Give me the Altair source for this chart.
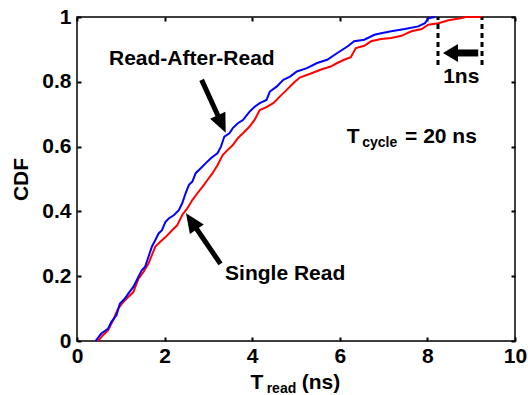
import altair as alt
import pandas as pd
import numpy as np

# ---------------- data ----------------
blue_x = [0.423, 0.554, 0.708, 0.785, 0.901, 0.978, 1.093, 1.170, 1.286, 1.401,
          1.478, 1.555, 1.632, 1.709, 1.786, 1.863, 1.940, 2.017, 2.094, 2.209,
          2.325, 2.402, 2.479, 2.556, 2.633, 2.710, 2.825, 2.941, 3.056, 3.210,
          3.287, 3.364, 3.480, 3.557, 3.672, 3.788, 3.941, 4.057, 4.172, 4.326,
          4.403, 4.557, 4.711, 4.865, 5.019, 5.250, 5.481, 5.712, 5.943, 6.174,
          6.328, 6.559, 6.790, 6.944, 7.175, 7.483, 7.790, 7.945, 8.021, 8.175]
blue_y = [0.000, 0.023, 0.038, 0.059, 0.079, 0.115, 0.131, 0.146, 0.167, 0.198,
          0.218, 0.229, 0.260, 0.291, 0.311, 0.332, 0.342, 0.367, 0.378, 0.388,
          0.404, 0.425, 0.456, 0.482, 0.492, 0.518, 0.533, 0.549, 0.564, 0.580,
          0.600, 0.631, 0.641, 0.657, 0.672, 0.682, 0.708, 0.723, 0.734, 0.744,
          0.770, 0.785, 0.806, 0.816, 0.832, 0.842, 0.858, 0.868, 0.889, 0.909,
          0.925, 0.930, 0.945, 0.950, 0.956, 0.963, 0.971, 0.981, 0.996, 1.000]

red_x = [0.477, 0.593, 0.708, 0.824, 0.939, 1.055, 1.170, 1.286, 1.401, 1.517,
         1.632, 1.724, 1.786, 1.901, 2.017, 2.171, 2.286, 2.402, 2.517, 2.633,
         2.748, 2.864, 2.979, 3.095, 3.210, 3.326, 3.441, 3.557, 3.672, 3.788,
         3.941, 4.057, 4.172, 4.326, 4.480, 4.634, 4.788, 4.942, 5.096, 5.327,
         5.558, 5.789, 5.943, 6.097, 6.251, 6.366, 6.559, 6.713, 6.944, 7.175,
         7.406, 7.637, 7.868, 8.021, 8.252, 8.483, 8.791, 8.868, 9.253]
red_y = [0.000, 0.018, 0.033, 0.064, 0.100, 0.120, 0.136, 0.151, 0.192, 0.213,
         0.239, 0.270, 0.291, 0.306, 0.320, 0.342, 0.357, 0.389, 0.409, 0.435,
         0.456, 0.476, 0.497, 0.518, 0.543, 0.574, 0.590, 0.605, 0.626, 0.641,
         0.662, 0.683, 0.713, 0.722, 0.734, 0.755, 0.775, 0.796, 0.814, 0.825,
         0.837, 0.847, 0.858, 0.868, 0.876, 0.904, 0.911, 0.925, 0.932, 0.935,
         0.942, 0.956, 0.963, 0.976, 0.981, 0.990, 0.997, 1.000, 1.000]

x_ticks = [0, 2, 4, 6, 8, 10]
y_ticks = [0, 0.2, 0.4, 0.6, 0.8, 1]

# annotation anchors (data units)
label_text = ["Read-After-Read", "Single Read", "1ns", "T", "cycle", "= 20 ns", "T", "read", "(ns)"]
label_x = [0.73, 3.38, 8.36, 6.16, 6.51, 7.49, 3.96, 4.33, 5.13]
label_y = [0.852, 0.187, 0.795, 0.611, 0.599, 0.611, -0.149, -0.160, -0.149]
label_size = [21, 21, 21, 21, 14, 21, 21, 14, 21]

arrow_tail_x = [2.845, 3.276, 9.16]
arrow_tail_y = [0.806, 0.238, 0.889]
arrow_tip_x = [3.395, 2.489, 8.356]
arrow_tip_y = [0.643, 0.394, 0.889]

window_x = [8.242, 9.247]
window_y0 = [0.852, 0.852]
window_y1 = [1.0, 1.0]

# ---------------- layout ----------------
W, H = 438, 324
PX_X = W / 10.0
PX_Y = H / 1.0
FONT = "Liberation Sans"

xs = alt.Scale(domain=[0, 10], nice=False, zero=False)
ys = alt.Scale(domain=[0, 1], nice=False, zero=False)


def tick_axis(orient):
    return alt.Axis(orient=orient, values=(x_ticks if orient in ("bottom", "top") else y_ticks),
                    labels=False, domain=False, grid=False, ticks=True, tickSize=4,
                    tickWidth=2, tickColor="black", offset=-4, title=None)


x_main = alt.Axis(orient="bottom", values=x_ticks, format="d", ticks=False, tickSize=0,
                  domain=False, grid=False, labelFontSize=21, labelFont=FONT,
                  labelFontWeight="bold", labelColor="black", labelPadding=4,
                  labelFlush=False, labelBound=False, title=None, offset=0)
y_main = alt.Axis(orient="left", values=y_ticks, format="~g", ticks=False, tickSize=0,
                  domain=False, grid=False, labelFontSize=21, labelFont=FONT,
                  labelFontWeight="bold", labelColor="black", labelPadding=6,
                  labelFlush=False, title="CDF", titleFontSize=21, titleFont=FONT,
                  titleFontWeight="bold", titleColor="black", titlePadding=10, offset=0)

blue_df = pd.DataFrame({"x": blue_x, "y": blue_y})
red_df = pd.DataFrame({"x": red_x, "y": red_y})

blue = alt.Chart(blue_df).mark_line(color="#0000ff", strokeWidth=2).encode(
    x=alt.X("x:Q", scale=xs, axis=x_main),
    y=alt.Y("y:Q", scale=ys, axis=y_main),
    order="x:Q",
)
red = alt.Chart(red_df).mark_line(color="#ff0000", strokeWidth=2).encode(
    x=alt.X("x:Q", scale=xs, axis=tick_axis("top")),
    y=alt.Y("y:Q", scale=ys, axis=tick_axis("right")),
    order="x:Q",
)

win_df = pd.DataFrame({"x": window_x, "y": window_y0, "y2": window_y1})
windows = alt.Chart(win_df).mark_rule(color="black", strokeWidth=3, strokeDash=[5, 4]).encode(
    x=alt.X("x:Q", scale=xs, axis=tick_axis("bottom")),
    y=alt.Y("y:Q", scale=ys, axis=tick_axis("left")),
    y2="y2:Q",
)

# arrows
tx = np.array(arrow_tail_x); ty = np.array(arrow_tail_y)
hx = np.array(arrow_tip_x); hy = np.array(arrow_tip_y)
dxp = (hx - tx) * PX_X
dyp = -(hy - ty) * PX_Y
lenp = np.sqrt(dxp ** 2 + dyp ** 2)
back = np.array([12.0, 12.0, 10.0])
ex = hx + (tx - hx) * back / lenp
ey = hy + (ty - hy) * back / lenp
angles = (np.degrees(np.arctan2(dxp, -dyp)) + 360) % 360
shaft_df = pd.DataFrame({"x": tx, "y": ty, "x2": ex, "y2": ey, "w": [5, 5, 7]})
head_df = pd.DataFrame({"x": hx, "y": hy, "angle": angles, "kind": ["a", "a", "b"]})

shafts = alt.Chart(shaft_df).mark_rule(color="black", strokeCap="butt").encode(
    x=alt.X("x:Q", scale=xs, axis=None),
    y=alt.Y("y:Q", scale=ys, axis=None),
    x2="x2:Q", y2="y2:Q",
    strokeWidth=alt.StrokeWidth("w:Q", scale=None, legend=None),
)
head_a = alt.Chart(head_df[head_df.kind == "a"]).mark_point(
    shape="M0,0 L0.7,1.6 L-0.7,1.6 Z", size=576, filled=True, color="black", opacity=1,
    strokeWidth=0).encode(
    x=alt.X("x:Q", scale=xs, axis=None),
    y=alt.Y("y:Q", scale=ys, axis=None),
    angle=alt.Angle("angle:Q", scale=None),
)
head_b = alt.Chart(head_df[head_df.kind == "b"]).mark_point(
    shape="M0,0 L0.9,1.5 L-0.9,1.5 Z", size=400, filled=True, color="black", opacity=1,
    strokeWidth=0).encode(
    x=alt.X("x:Q", scale=xs, axis=None),
    y=alt.Y("y:Q", scale=ys, axis=None),
    angle=alt.Angle("angle:Q", scale=None),
)

text_df = pd.DataFrame({"x": label_x, "y": label_y, "t": label_text, "s": label_size})
texts = alt.Chart(text_df).mark_text(align="left", baseline="alphabetic", font=FONT,
                                     fontWeight="bold", color="black").encode(
    x=alt.X("x:Q", scale=xs, axis=None),
    y=alt.Y("y:Q", scale=ys, axis=None),
    text="t:N",
    size=alt.Size("s:Q", scale=None, legend=None),
)

chart = alt.layer(red, blue, windows, shafts, head_a, head_b, texts).resolve_axis(
    x="independent", y="independent"
).properties(
    width=W, height=H,
    autosize=alt.AutoSizeParams(type="none"),
    padding={"left": 77, "top": 17, "right": 13, "bottom": 54},
    background="white",
).configure_view(stroke="black", strokeWidth=1.5)

chart.save("out.html", embed_options={"renderer": "svg", "actions": False})
